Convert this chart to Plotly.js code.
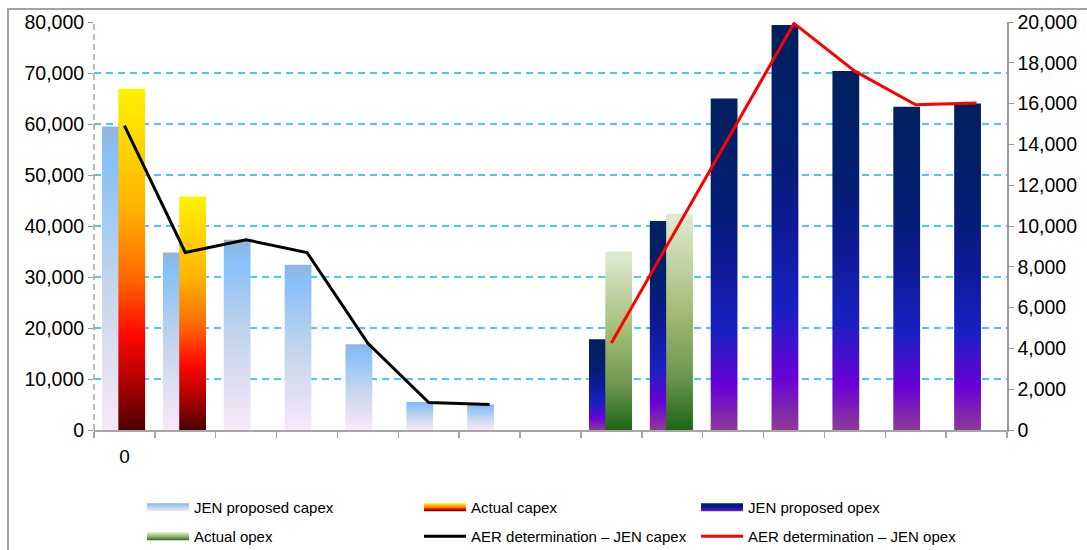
<!DOCTYPE html>
<html>
<head>
<meta charset="utf-8">
<script src="https://cdn.plot.ly/plotly-3.0.1.min.js"></script>
<style>
  html, body { margin: 0; padding: 0; background: #ffffff; }
  #wrap { position: relative; width: 1087px; height: 550px; overflow: hidden; }
  #frame { position: absolute; left: 7px; top: 8px; width: 1300px; height: 800px;
           border-left: 2px solid #A3A3A3; border-top: 2px solid #A3A3A3; }
  #chart { position: absolute; left: 0; top: 0; width: 1087px; height: 550px; }
</style>
</head>
<body>
<div id="wrap"><div id="frame"></div><div id="chart"></div></div>
<script>
// Periods along the category axis (only the first one carries a label)
const periods    = [0, 1, 2, 3, 4, 5, 6, 7, 8, 9, 10, 11, 12, 13, 14];
const tickLabels = ['0', '', '', '', '', '', '', '', '', '', '', '', '', '', ''];

// Capex series ($'000, left axis)
const jenProposedCapex = [59500, 34800, 37300, 32400, 16800, 5500, 5000, null, null, null, null, null, null, null, null];
const actualCapex      = [66900, 45800, null, null, null, null, null, null, null, null, null, null, null, null, null];
const aerCapex         = [59700, 34800, 37300, 34800, 17000, 5400, 5000, null, null, null, null, null, null, null, null];

// Opex series ($'000, right axis)
const jenProposedOpex  = [null, null, null, null, null, null, null, null, 4450, 10250, 16250, 19850, 17600, 15850, 16000];
const actualOpex       = [null, null, null, null, null, null, null, null, 8750, 10600, null, null, null, null, null];
const aerOpex          = [null, null, null, null, null, null, null, null, 4270, 9500, 14730, 19930, 17590, 15940, 16030];

// Vertical gradient fills for the bar series (top -> bottom)
const gradientStops = {
  'JEN proposed capex': [[0, '#93B3DB'], [0.1, '#86C0F8'], [0.55, '#C8D6EC'], [1, '#F8E8F8']],
  'Actual capex':       [[0, '#FFF200'], [0.35, '#FFB300'], [0.55, '#FF6A00'], [0.72, '#FF0800'], [0.85, '#B40000'], [1, '#4A0000']],
  'JEN proposed opex':  [[0, '#00205E'], [0.3, '#021E70'], [0.5, '#0F1A95'], [0.7, '#1820C2'], [0.87, '#6A00D6'], [1, '#8E3C96']],
  'Actual opex':        [[0, '#E0EBD3'], [0.45, '#A3BC76'], [0.75, '#6D9650'], [1, '#1C6614']]
};

const barWidth = 0.44;
const font = 'Liberation Sans, Arial, sans-serif';

const traces = [
  { type: 'bar', name: 'JEN proposed capex', x: periods, y: jenProposedCapex, yaxis: 'y',
    width: barWidth, offset: -0.368, marker: { color: '#8DC0F5', line: { width: 0 } }, legend: 'legend' },
  { type: 'bar', name: 'Actual capex', x: periods, y: actualCapex, yaxis: 'y',
    width: barWidth, offset: -0.100, marker: { color: '#FF8000', line: { width: 0 } }, legend: 'legend' },
  { type: 'bar', name: 'JEN proposed opex', x: periods, y: jenProposedOpex, yaxis: 'y2',
    width: barWidth, offset: -0.368, marker: { color: '#0F1A95', line: { width: 0 } }, legend: 'legend' },
  { type: 'bar', name: 'Actual opex', x: periods, y: actualOpex, yaxis: 'y2',
    width: barWidth, offset: -0.100, marker: { color: '#A3BC76', line: { width: 0 } }, legend: 'legend2' },
  { type: 'scatter', mode: 'lines', name: 'AER determination – JEN capex', x: periods, y: aerCapex, yaxis: 'y',
    line: { color: '#000000', width: 3 }, legend: 'legend2' },
  { type: 'scatter', mode: 'lines', name: 'AER determination – JEN opex', x: periods, y: aerOpex, yaxis: 'y2',
    line: { color: '#FF0000', width: 3 }, legend: 'legend2' }
];

const legendCommon = {
  orientation: 'h', xanchor: 'left', yanchor: 'top', x: 0.0526,
  entrywidth: 220, entrywidthmode: 'pixels', itemwidth: 42,
  bgcolor: 'rgba(0,0,0,0)', font: { family: font, size: 15, color: '#000' },
  traceorder: 'normal'
};

const layout = {
  width: 1087, height: 550,
  margin: { l: 94, r: 80, t: 22, b: 120, autoexpand: false },
  paper_bgcolor: 'rgba(0,0,0,0)', plot_bgcolor: 'rgba(0,0,0,0)',
  font: { family: font, size: 20, color: '#000' },
  barmode: 'overlay',
  hovermode: false,
  showlegend: true,
  xaxis: {
    type: 'category', range: [-0.5, 14.5],
    tickmode: 'array', tickvals: periods, ticktext: tickLabels, tickson: 'boundaries',
    ticks: 'outside', ticklen: 6, tickwidth: 1.5, tickcolor: '#A6A6A6',
    showline: true, linecolor: '#A6A6A6', linewidth: 2,
    showgrid: false, zeroline: false, ticklabelstandoff: 8,
    tickfont: { size: 19 }
  },
  yaxis: {
    range: [0, 80000], dtick: 10000, tick0: 0, tickformat: ',d',
    ticks: 'outside', ticklen: 5, tickcolor: '#999999',
    showline: false, zeroline: false,
    showgrid: true, gridcolor: '#4CC9F0', gridwidth: 2, griddash: '7px,5px',
    tickfont: { size: 19.5 }
  },
  yaxis2: {
    overlaying: 'y', side: 'right',
    range: [0, 20000], dtick: 2000, tick0: 0, tickformat: ',d',
    ticks: 'outside', ticklen: 5, tickcolor: '#999999',
    showline: true, linecolor: '#999999', linewidth: 1.5,
    showgrid: false, zeroline: false,
    tickfont: { size: 19.5 }
  },
  legend:  Object.assign({}, legendCommon, { y: -0.1495 }),
  legend2: Object.assign({}, legendCommon, { y: -0.2206 }),
  shapes: [
    // dashed left value axis
    { type: 'line', xref: 'paper', yref: 'paper', x0: 0, x1: 0, y0: 0, y1: 1,
      line: { color: '#A6A6A6', width: 1.5, dash: '6px,4px' } }
  ]
};

function applyGradients(gd) {
  const ns = 'http://www.w3.org/2000/svg';
  const svg = gd.querySelector('svg.main-svg');
  let defs = svg.querySelector('defs');
  if (!defs) { defs = document.createElementNS(ns, 'defs'); svg.insertBefore(defs, svg.firstChild); }
  const ids = {};
  Object.keys(gradientStops).forEach((name, k) => {
    const id = 'barfill-' + k;
    ids[name] = id;
    const old = document.getElementById(id);
    if (old) old.remove();
    const lg = document.createElementNS(ns, 'linearGradient');
    lg.setAttribute('id', id);
    lg.setAttribute('x1', '0'); lg.setAttribute('y1', '0');
    lg.setAttribute('x2', '0'); lg.setAttribute('y2', '1');
    gradientStops[name].forEach(([off, col]) => {
      const s = document.createElementNS(ns, 'stop');
      s.setAttribute('offset', off);
      s.setAttribute('stop-color', col);
      lg.appendChild(s);
    });
    defs.appendChild(lg);
  });

  gd.querySelectorAll('.barlayer .trace').forEach(g => {
    const cd = g.__data__;
    if (!cd || !cd[0]) return;
    const id = ids[cd[0].trace.name];
    if (!id) return;
    g.querySelectorAll('path').forEach(p => { p.style.fill = 'url(#' + id + ')'; });
  });

  // legend swatches of the bar series, in every legend group
  gd.querySelectorAll('.infolayer g.traces').forEach(g => {
    const d = g.__data__;
    if (!d || !d[0]) return;
    const tr = d[0].trace;
    if (!tr || tr.type !== 'bar') return;
    const id = ids[tr.name];
    g.querySelectorAll('.legendpoints path').forEach(p => {
      p.setAttribute('d', 'M-21,-4H21V4H-21Z');
      p.style.fill = 'url(#' + id + ')';
      p.style.stroke = 'none';
    });
  });
}

Plotly.newPlot('chart', traces, layout, { displayModeBar: false, staticPlot: true })
  .then(gd => applyGradients(gd));
</script>
</body>
</html>
